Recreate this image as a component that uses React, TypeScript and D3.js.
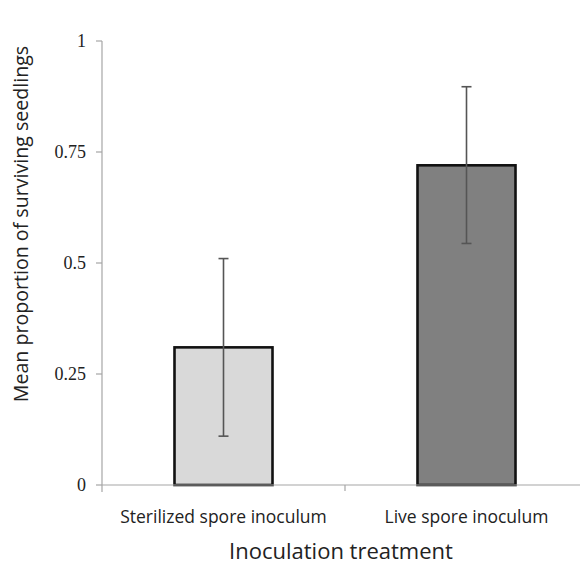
import React from "react";
import * as d3 from "d3";

const categories = ["Sterilized spore inoculum", "Live spore inoculum"];
const means = [0.31, 0.72];
const errUpper = [0.51, 0.897];
const errLower = [0.11, 0.544];
const yTicks = [0, 0.25, 0.5, 0.75, 1];
const yTickLabels = ["0", "0.25", "0.5", "0.75", "1"];
const barFills = ["#d9d9d9", "#808080"];

export default function App() {
  const W = 580, H = 567;
  const x0 = 102, x1 = 588;
  const y = d3.scaleLinear().domain([0, 1]).range([485, 41]);
  const x = d3.scaleBand().domain(categories).range([x0, x1]).paddingInner(0).paddingOuter(0);
  const bw = 98;
  const sans = "'Open Sans', 'Noto Sans', sans-serif";
  const serif = "'Liberation Serif', 'DejaVu Serif', serif";
  return (
    <svg width={W} height={H} style={{ position: "absolute", left: 0, top: 0, background: "#fff" }}>
      {/* y axis */}
      <line x1={x0} x2={x0} y1={y(1)} y2={y(0) + 7} stroke="#a6a6a6" strokeWidth={1.2} />
      {yTicks.map((t, i) => (
        <g key={i}>
          <line x1={x0 - 6} x2={x0} y1={y(t)} y2={y(t)} stroke="#a6a6a6" strokeWidth={1.2} />
          <text x={86} y={y(t) + 6} textAnchor="end" fontFamily={serif} fontSize={18} fill="#222">
            {yTickLabels[i]}
          </text>
        </g>
      ))}
      {/* bars */}
      {categories.map((c, i) => {
        const cx = (x(c) as number) + x.bandwidth() / 2;
        return (
          <g key={c}>
            <rect x={cx - bw / 2} y={y(means[i])} width={bw} height={y(0) - y(means[i])}
              fill={barFills[i]} stroke="#111" strokeWidth={2.6} />
          </g>
        );
      })}
      {/* x axis */}
      <line x1={x0} x2={x1} y1={y(0)} y2={y(0)} stroke="#a6a6a6" strokeWidth={1.2} />
      {x.domain().slice(1).map((c) => (
        <line key={c} x1={x(c) as number} x2={x(c) as number} y1={y(0)} y2={y(0) + 6} stroke="#a6a6a6" strokeWidth={1.2} />
      ))}
      {/* error bars */}
      {categories.map((c, i) => {
        const cx = (x(c) as number) + x.bandwidth() / 2;
        return (
          <g key={c} stroke="#555" strokeWidth={1.6}>
            <line x1={cx} x2={cx} y1={y(errUpper[i])} y2={y(errLower[i])} />
            <line x1={cx - 5} x2={cx + 5} y1={y(errUpper[i])} y2={y(errUpper[i])} />
            <line x1={cx - 5} x2={cx + 5} y1={y(errLower[i])} y2={y(errLower[i])} />
          </g>
        );
      })}
      {/* category labels */}
      {categories.map((c) => (
        <text key={c} x={(x(c) as number) + x.bandwidth() / 2} y={523} textAnchor="middle"
          fontFamily={sans} fontSize={17.5} fill="#222">{c}</text>
      ))}
      {/* axis titles */}
      <text x={341} y={559} textAnchor="middle" fontFamily={sans} fontSize={22} fill="#222">
        Inoculation treatment
      </text>
      <text transform={`translate(28,224) rotate(-90)`} textAnchor="middle" fontFamily={sans}
        fontSize={19.6} fill="#222">
        Mean proportion of surviving seedlings
      </text>
    </svg>
  );
}
